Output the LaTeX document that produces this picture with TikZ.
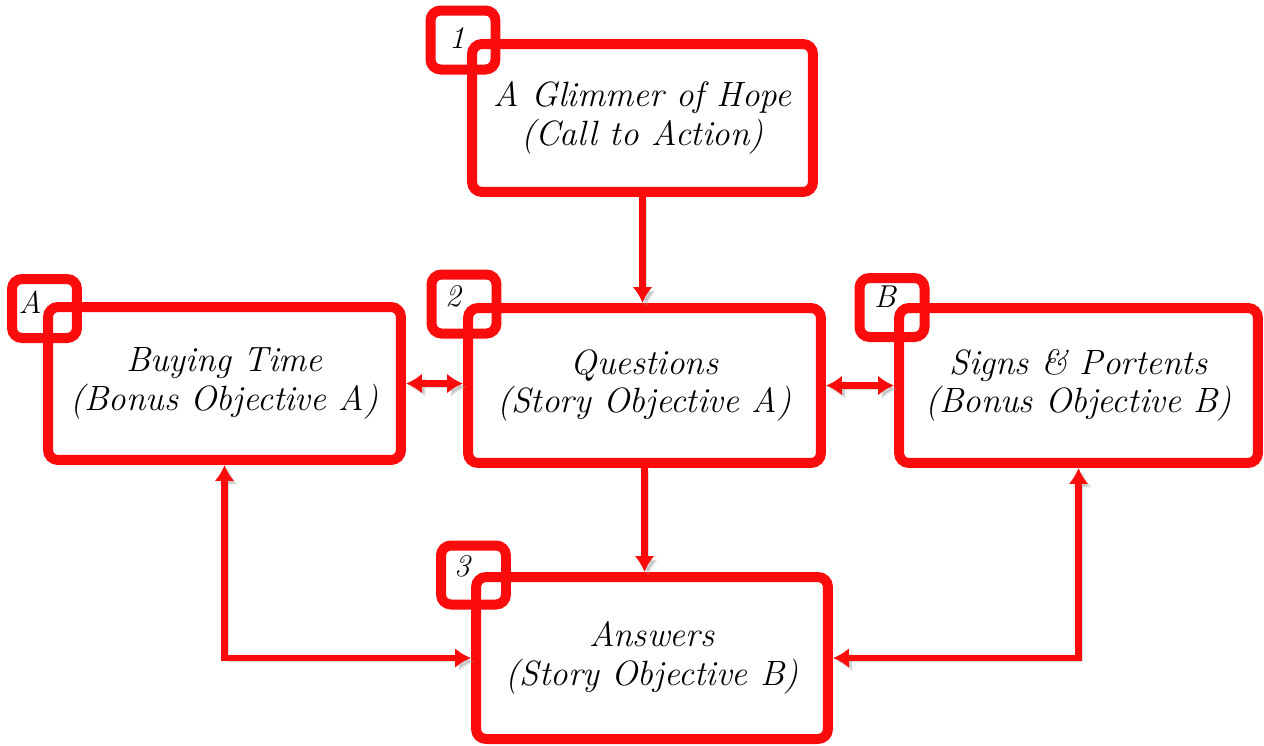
\documentclass[tikz,border=0pt]{standalone}
\usetikzlibrary{arrows.meta}
\definecolor{boxred}{RGB}{250,12,12}
\tikzset{
  box/.style={draw=boxred,fill=white,line width=0.2cm,rounded corners=0.2cm,align=center,inner sep=0pt,font=\itshape\fontsize{20}{22}\selectfont},
  tag/.style={draw=boxred,line width=0.2cm,rounded corners=0.2cm,minimum width=1.3cm,minimum height=1.18cm},
  num/.style={font=\itshape\fontsize{18}{20}\selectfont},
  link/.style={draw=boxred,line width=0.13cm,>={Latex[length=0.32cm,width=0.4cm]},preaction={draw=black!40,opacity=0.35,transform canvas={shift={(0.07cm,-0.07cm)}}}}
}
\begin{document}
\begin{tikzpicture}[x=0.02cm,y=-0.02cm]
            \useasboundingbox (0,0) rectangle (1264,745);
            \node[box,minimum width=6.82cm,minimum height=2.96cm] (b1) at (642.5,118) {A Glimmer of Hope\\(Call to Action)};
            \node[box,minimum width=7.06cm,minimum height=3.1cm] (b2) at (644.5,385.5) {Questions\\(Story Objective A)};
            \node[box,minimum width=7.06cm,minimum height=3.06cm] (bA) at (224.5,383.5) {Buying Time\\(Bonus Objective A)};
            \node[box,minimum width=7.18cm,minimum height=3.1cm] (bB) at (1078.5,385.5) {Signs \& Portents\\(Bonus Objective B)};
            \node[box,minimum width=7.04cm,minimum height=3.24cm] (b3) at (652,658) {Answers\\(Story Objective B)};
            \node[tag] (t1) at (463,40) {};
            \node[tag] (t2) at (464,304) {};
            \node[tag] (tA) at (44.5,308.5) {};
            \node[tag] (tB) at (892,307.5) {};
            \node[tag] (t3) at (473.5,575) {};
            \node[num] (n1) at (457,38) {1};
            \node[num] (n2) at (453,296) {2};
            \node[num] (nA) at (30,302) {A};
            \node[num] (nB) at (885,297) {B};
            \node[num] (n3) at (462,566) {3};
            \draw[link,->] (b1.south) -- (b1.south |- b2.north);
            \draw[link,->] (b2.south) -- (b2.south |- b3.north);
            \draw[link,<->] (bA.east) -- (bA.east -| b2.west);
            \draw[link,<->] (b2.east) -- (b2.east -| bB.west);
            \draw[link,<->] (bA.south) |- (b3.west);
            \draw[link,<->] (bB.south) |- (b3.east);
        \end{tikzpicture}
\end{document}
